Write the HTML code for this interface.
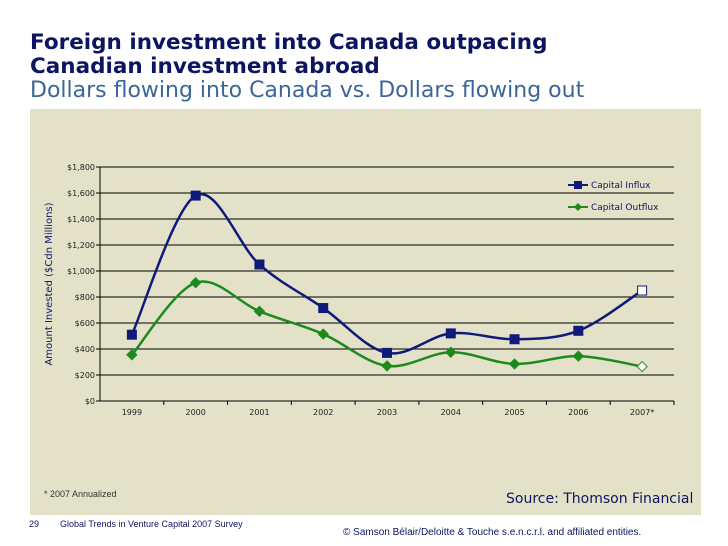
<!DOCTYPE html>
<html><head><meta charset="utf-8"><style>
body{margin:0;width:728px;height:546px;background:#fff;position:relative;overflow:hidden;font-family:"DejaVu Sans","Liberation Sans",sans-serif}
.t{position:absolute;left:30px;white-space:nowrap}
</style></head><body>
<div class="t" style="top:30px;font-size:21.5px;font-weight:bold;color:#0d1560">Foreign investment into Canada outpacing</div>
<div class="t" style="top:54px;font-size:21.5px;font-weight:bold;color:#0d1560">Canadian investment abroad</div>
<div class="t" style="top:78px;font-size:22px;color:#3a6797">Dollars flowing into Canada vs. Dollars flowing out</div>
<div style="position:absolute;left:30px;top:109px;width:671px;height:406px;background:#e3e2c9"></div>
<svg id="c" width="728" height="546" style="position:absolute;left:0;top:0"></svg>
<div class="t" style="left:44px;top:489px;font-size:9px;font-family:'Liberation Sans',sans-serif;color:#333">* 2007 Annualized</div>
<div class="t" style="left:506px;top:491px;font-size:14px;color:#0d1560">Source: Thomson Financial</div>
<div class="t" style="left:29px;top:519px;font-size:9px;font-family:'Liberation Sans',sans-serif;color:#0d1560">29</div>
<div class="t" style="left:60px;top:519px;font-size:9px;font-family:'Liberation Sans',sans-serif;color:#0d1560">Global Trends in Venture Capital 2007 Survey</div>
<div class="t" style="left:343px;top:527px;font-size:10px;font-family:'Liberation Sans',sans-serif;color:#0d1560">© Samson Bélair/Deloitte &amp; Touche s.e.n.c.r.l. and affiliated entities.</div>
<script>
const categories=["1999","2000","2001","2002","2003","2004","2005","2006","2007*"];
const influx=[510,1580,1050,715,370,520,475,540,850];
const outflux=[355,910,690,515,270,375,285,345,265];
const yTicks=[0,200,400,600,800,1000,1200,1400,1600,1800];
const yTickLabels=["$0","$200","$400","$600","$800","$1,000","$1,200","$1,400","$1,600","$1,800"];
const NS="http://www.w3.org/2000/svg";
const svg=document.getElementById('c');
const L=100,R=674,T=167,B=401,yMax=1800;
const bw=(R-L)/categories.length;
const x=i=>L+bw*(i+0.5);
const y=v=>B-(v/yMax)*(B-T);
function mk(tag,a){const e=document.createElementNS(NS,tag);for(const k in a)e.setAttribute(k,a[k]);svg.appendChild(e);return e;}
yTicks.forEach((t,i)=>{
 const l=mk('line',{x1:L-4,x2:R,y1:y(t),y2:y(t),stroke:'#000','stroke-width':1});
 
 
 const tx=mk('text',{x:L-5,y:y(t)+3,'text-anchor':'end','font-size':8,'font-family':'DejaVu Sans,sans-serif',fill:'#222'});
 tx.textContent=yTickLabels[i];
 
 
});
const ax=mk('line',{x1:L,x2:L,y1:T,y2:B,stroke:'#000'});


categories.forEach((c,i)=>{
 const tk=mk('line',{x1:L+bw*(i+1),x2:L+bw*(i+1),y1:B,y2:B+4,stroke:'#000'});
 
 
 const tx=mk('text',{x:x(i),y:B+14,'text-anchor':'middle','font-size':8,'font-family':'DejaVu Sans,sans-serif',fill:'#222'});
 tx.textContent=c;
 
 
});
const yt=mk('text',{x:0,y:0,transform:'translate(52,284) rotate(-90)','text-anchor':'middle','font-size':10,'font-family':'DejaVu Sans,sans-serif',fill:'#0d1560'});
yt.textContent='Amount Invested ($Cdn Millions)';


function smooth(vals){
 const p=vals.map((v,i)=>[x(i),y(v)]);let d=`M${p[0][0]},${p[0][1]}`;
 for(let i=0;i<p.length-1;i++){
  const p0=p[Math.max(i-1,0)],p1=p[i],p2=p[i+1],p3=p[Math.min(i+2,p.length-1)];
  const k=1/6;
  d+=` C${p1[0]+(p2[0]-p0[0])*k},${p1[1]+(p2[1]-p0[1])*k} ${p2[0]-(p3[0]-p1[0])*k},${p2[1]-(p3[1]-p1[1])*k} ${p2[0]},${p2[1]}`;
 }
 return d;
}
const lin=mk('path',{d:smooth(influx),fill:'none',stroke:'#0f1a7a','stroke-width':2.5});


const lout=mk('path',{d:smooth(outflux),fill:'none',stroke:'#1e8a1e','stroke-width':2.5});


influx.forEach((v,i)=>{
 const last=i===influx.length-1;
 const m=mk('rect',{x:x(i)-4.5,y:y(v)-4.5,width:9,height:9,fill:last?'#fff':'#0f1a7a',stroke:'#0f1a7a','stroke-width':1});
 
 
});
outflux.forEach((v,i)=>{
 const last=i===outflux.length-1;const cx=x(i),cy=y(v);
 const m=mk('polygon',{points:`${cx},${cy-5} ${cx+5},${cy} ${cx},${cy+5} ${cx-5},${cy}`,fill:last?'#fff':'#1e8a1e',stroke:'#1e8a1e','stroke-width':1});
 
 
});
const lg1=mk('line',{x1:568,x2:588,y1:185,y2:185,stroke:'#0f1a7a','stroke-width':2});


const lg1m=mk('rect',{x:574,y:181,width:8,height:8,fill:'#0f1a7a'});


const lt1=mk('text',{x:591,y:188,'font-size':9,'font-family':'DejaVu Sans,sans-serif',fill:'#0d1560'});
lt1.textContent='Capital Influx';


const lg2=mk('line',{x1:568,x2:588,y1:207,y2:207,stroke:'#1e8a1e','stroke-width':2});


const lg2m=mk('polygon',{points:'578,203 582,207 578,211 574,207',fill:'#1e8a1e'});


const lt2=mk('text',{x:591,y:210,'font-size':9,'font-family':'DejaVu Sans,sans-serif',fill:'#0d1560'});
lt2.textContent='Capital Outflux';


</script>
</body></html>
